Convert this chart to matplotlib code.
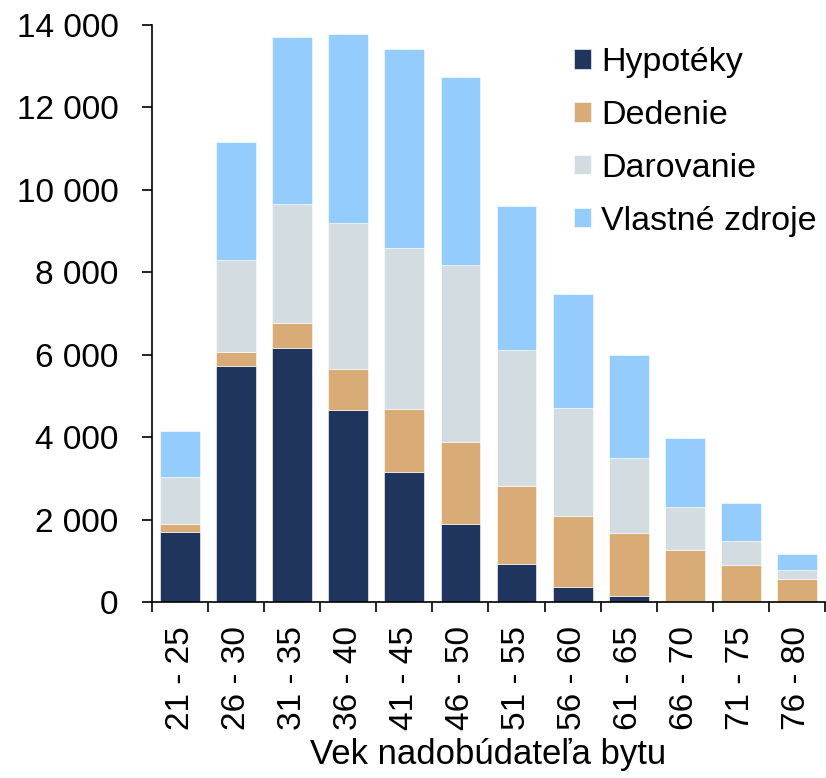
import matplotlib
matplotlib.use("Agg")
import matplotlib.pyplot as plt
import numpy as np

plt.rcParams['font.family'] = ['Liberation Sans', 'DejaVu Sans']

categories = ["21 - 25", "26 - 30", "31 - 35", "36 - 40", "41 - 45", "46 - 50",
              "51 - 55", "56 - 60", "61 - 65", "66 - 70", "71 - 75", "76 - 80"]
hypoteky = [1717, 5741, 6178, 4659, 3156, 1911, 925, 376, 158, 45, 8, 0]
dedenie = [178, 339, 590, 1010, 1543, 1988, 1907, 1729, 1527, 1236, 909, 562]
darovanie = [1155, 2231, 2900, 3523, 3895, 4275, 3289, 2602, 1818, 1042, 574, 234]
vlastne = [1100, 2845, 4049, 4598, 4824, 4558, 3491, 2764, 2489, 1665, 921, 372]
series_names = ["Hypotéky", "Dedenie", "Darovanie", "Vlastné zdroje"]
colors = ["#1F355E", "#D9AB76", "#D3DCE1", "#94CDFD"]
yticks = [0, 2000, 4000, 6000, 8000, 10000, 12000, 14000]
ytick_labels = ["0", "2 000", "4 000", "6 000", "8 000", "10 000", "12 000", "14 000"]
xlabel = "Vek nadobúdateľa bytu"

fig = plt.figure(figsize=(8.26, 7.78), dpi=100)
ax = fig.add_axes([0.184, 0.2256, 0.8148, 0.7423])

x = np.arange(len(categories))
bottom = np.zeros(len(categories))
for name, vals, c in zip(series_names, [hypoteky, dedenie, darovanie, vlastne], colors):
    ax.bar(x, vals, width=0.71, bottom=bottom, color=c, label=name,
           edgecolor='white', linewidth=0.4)
    bottom += np.array(vals)

ax.set_xlim(-0.5, len(categories) - 0.5)
ax.set_ylim(0, 14000)
ax.set_yticks(yticks)
ax.set_yticklabels(ytick_labels, fontsize=24)
ax.tick_params(axis='y', direction='out', length=7, width=1.2, pad=17)

ax.set_xticks(np.arange(-0.5, len(categories), 1.0))
ax.set_xticklabels([])
ax.tick_params(axis='x', which='major', direction='out', length=7, width=1.2)
ax.set_xticks(x, minor=True)
ax.set_xticklabels(categories, minor=True, rotation=90, fontsize=24)
ax.tick_params(axis='x', which='minor', length=0, pad=17)

for s in ['top', 'right']:
    ax.spines[s].set_visible(False)
for s in ['left', 'bottom']:
    ax.spines[s].set_linewidth(1.2)

ax.set_xlabel(xlabel, fontsize=25, labelpad=6)

leg = ax.legend(loc='upper right', bbox_to_anchor=(1.008, 0.985), frameon=False,
                fontsize=24.5, handlelength=0.5, handleheight=0.5,
                handletextpad=0.3, labelspacing=0.64, borderaxespad=0.0)

fig.savefig("out.png", dpi=100)
